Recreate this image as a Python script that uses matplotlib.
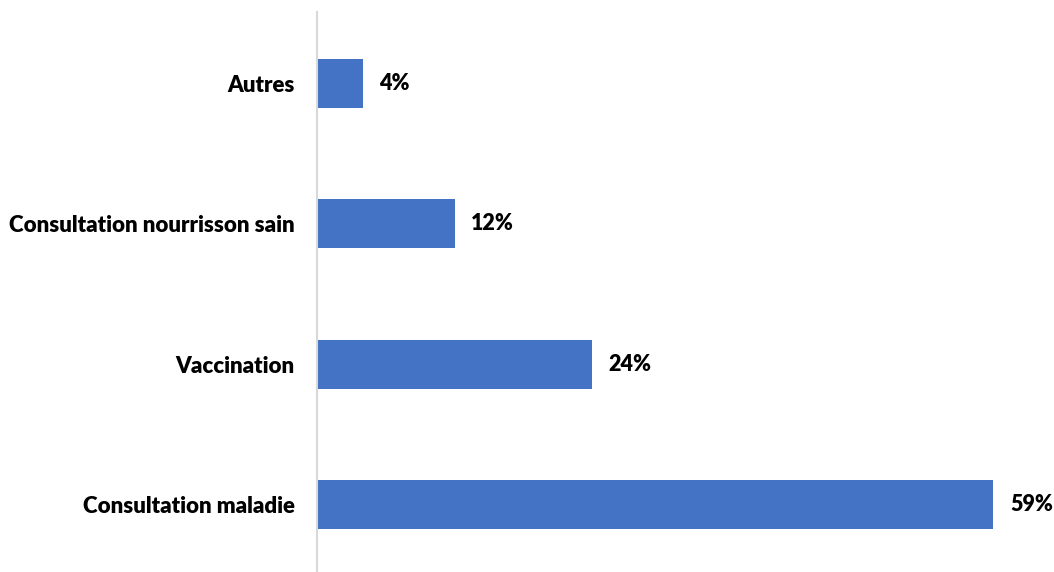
import matplotlib
matplotlib.use("Agg")
import matplotlib.pyplot as plt

categories = ["Consultation maladie", "Vaccination", "Consultation nourrisson sain", "Autres"]
values = [59, 24, 12, 4]
value_labels = ["59%", "24%", "12%", "4%"]

plt.rcParams["font.family"] = ["Lato", "DejaVu Sans"]

fig = plt.figure(figsize=(10.54, 5.72), dpi=100)
ax = fig.add_axes([317 / 1054, 0.0, 1 - 317 / 1054, 1 - 12 / 572])

bar_color = "#4472C4"
ypos = range(len(categories))
ax.barh(ypos, values, height=0.35, color=bar_color)

for y, v, lab in zip(ypos, values, value_labels):
    ax.annotate(lab, xy=(v, y), xytext=(12, 0), textcoords="offset points",
                ha="left", va="center", fontsize=15.5, fontweight="heavy", color="black")

ax.set_xlim(0, 64.3)
ax.set_ylim(-0.48, 3.51)
ax.set_yticks(list(ypos))
ax.set_yticklabels(categories, fontsize=16, fontweight="heavy")
ax.tick_params(axis="y", length=0, pad=16)
ax.set_xticks([])

for side in ["top", "right", "bottom"]:
    ax.spines[side].set_visible(False)
ax.spines["left"].set_color("#d9d9d9")
ax.spines["left"].set_linewidth(1.5)

fig.savefig("out.png", dpi=100, facecolor="white")
